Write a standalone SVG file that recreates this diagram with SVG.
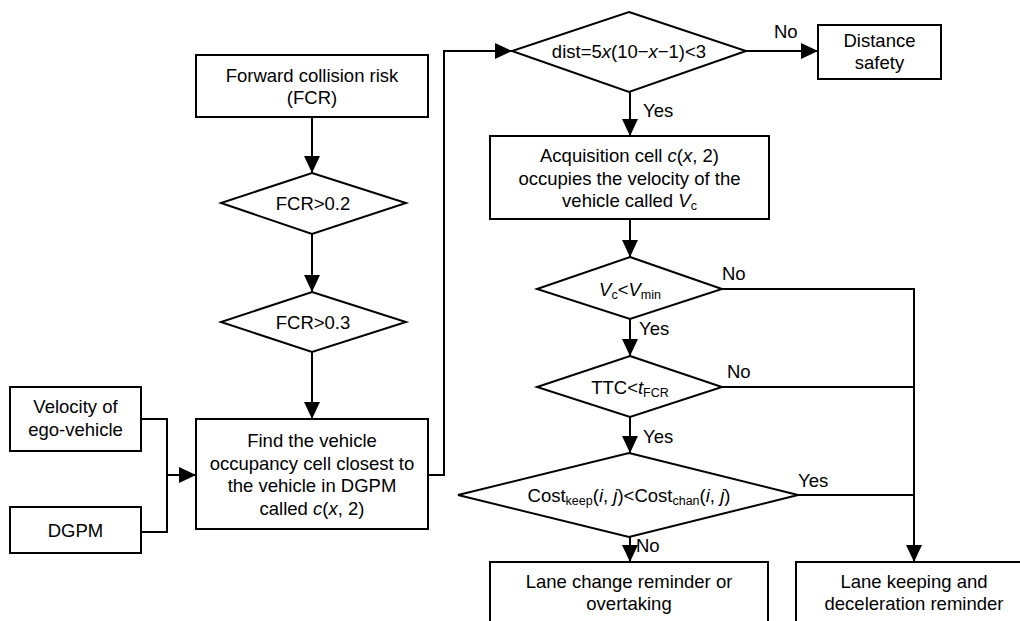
<svg xmlns="http://www.w3.org/2000/svg" width="1020" height="621" viewBox="0 0 1020 621">
<style>
.box{fill:#fff;stroke:#000;stroke-width:2}
.ln{fill:none;stroke:#000;stroke-width:2}
text{font-family:"Liberation Sans",Arial,sans-serif;font-size:18.5px;fill:#000;text-anchor:middle}
.lbl{text-anchor:start}
.it{font-style:italic}
.sub{font-size:12.5px}
</style>
<defs>
<marker id="ah" markerUnits="userSpaceOnUse" markerWidth="18" markerHeight="17" refX="17" refY="8" orient="auto">
<path d="M0,0 L17,8 L0,16 Z" fill="#000"/>
</marker>
</defs>
<rect width="1020" height="621" fill="#fff"/>

<g id="connectors">
<line class="ln" x1="312" y1="117" x2="312" y2="173" marker-end="url(#ah)"/>
<line class="ln" x1="312" y1="234" x2="312" y2="292" marker-end="url(#ah)"/>
<line class="ln" x1="312" y1="352" x2="312" y2="419" marker-end="url(#ah)"/>
<polyline class="ln" points="141,419 167,419 167,532 141,532"/>
<line class="ln" x1="167" y1="475" x2="196" y2="475" marker-end="url(#ah)"/>
<polyline class="ln" points="428,475 444,475 444,51 512,51" marker-end="url(#ah)"/>
<line class="ln" x1="746" y1="51" x2="818" y2="51" marker-end="url(#ah)"/>
<line class="ln" x1="630" y1="92" x2="630" y2="136" marker-end="url(#ah)"/>
<line class="ln" x1="630" y1="219" x2="630" y2="257" marker-end="url(#ah)"/>
<line class="ln" x1="630" y1="319" x2="630" y2="356" marker-end="url(#ah)"/>
<line class="ln" x1="630" y1="417" x2="630" y2="453" marker-end="url(#ah)"/>
<line class="ln" x1="630" y1="537" x2="630" y2="562" marker-end="url(#ah)"/>
<polyline class="ln" points="722,289 914,289 914,562" marker-end="url(#ah)"/>
<line class="ln" x1="722" y1="387" x2="914" y2="387"/>
<line class="ln" x1="798" y1="495" x2="914" y2="495"/>
<text class="lbl" x="774" y="38">No</text>
<text class="lbl" x="643" y="117">Yes</text>
<text class="lbl" x="722" y="280">No</text>
<text class="lbl" x="639" y="335">Yes</text>
<text class="lbl" x="727" y="378">No</text>
<text class="lbl" x="643" y="443">Yes</text>
<text class="lbl" x="798" y="487">Yes</text>
<text class="lbl" x="636" y="552">No</text>
</g>

<g id="fcr">
<rect class="box" x="196" y="55" width="232" height="62"/>
<text x="312" y="82">Forward collision risk</text>
<text x="312" y="104">(FCR)</text>
</g>

<g id="fcr02">
<polygon class="box" points="312,173 406,203 312,234 221,203"/>
<text x="313" y="210">FCR&gt;0.2</text>
</g>

<g id="fcr03">
<polygon class="box" points="312,292 406,322 312,352 221,322"/>
<text x="313" y="329">FCR&gt;0.3</text>
</g>

<g id="velocity">
<rect class="box" x="10" y="387" width="131" height="64"/>
<text x="75.5" y="413">Velocity of</text>
<text x="75.5" y="436">ego-vehicle</text>
</g>

<g id="dgpm">
<rect class="box" x="10" y="507" width="131" height="46"/>
<text x="75.5" y="537">DGPM</text>
</g>

<g id="find">
<rect class="box" x="196" y="419" width="232" height="110"/>
<text x="312" y="447">Find the vehicle</text>
<text x="312" y="470">occupancy cell closest to</text>
<text x="312" y="492">the vehicle in DGPM</text>
<text x="312" y="515">called <tspan class="it">c</tspan>(<tspan class="it">x</tspan>, 2)</text>
</g>

<g id="dist">
<polygon class="box" points="629,12 746,51 629,92 512,51"/>
<text x="629" y="58">dist=5<tspan class="it">x</tspan>(10−<tspan class="it">x</tspan>−1)&lt;3</text>
</g>

<g id="distance-safety">
<rect class="box" x="818" y="25" width="123" height="54"/>
<text x="879.5" y="47">Distance</text>
<text x="879.5" y="69">safety</text>
</g>

<g id="acquisition">
<rect class="box" x="490" y="136" width="279" height="83"/>
<text x="629.5" y="162">Acquisition cell <tspan class="it">c</tspan>(<tspan class="it">x</tspan>, 2)</text>
<text x="629.5" y="185">occupies the velocity of the</text>
<text x="629.5" y="207">vehicle called <tspan class="it">V</tspan><tspan class="sub" dy="3">c</tspan></text>
</g>

<g id="vmin">
<polygon class="box" points="630,257 722,289 630,319 537,289"/>
<text x="630" y="296"><tspan class="it">V</tspan><tspan class="sub" dy="3">c</tspan><tspan dy="-3">&lt;</tspan><tspan class="it">V</tspan><tspan class="sub" dy="3">min</tspan></text>
</g>

<g id="ttc">
<polygon class="box" points="630,356 722,387 630,417 537,387"/>
<text x="630" y="394">TTC&lt;<tspan class="it">t</tspan><tspan class="sub" dy="3">FCR</tspan></text>
</g>

<g id="cost">
<polygon class="box" points="629,453 798,495 629,537 458,495"/>
<text x="629" y="502">Cost<tspan class="sub" dy="3">keep</tspan><tspan dy="-3">(</tspan><tspan class="it">i</tspan>, <tspan class="it">j</tspan>)&lt;Cost<tspan class="sub" dy="3">chan</tspan><tspan dy="-3">(</tspan><tspan class="it">i</tspan>, <tspan class="it">j</tspan>)</text>
</g>

<g id="lane-change">
<rect class="box" x="490" y="562" width="278" height="80"/>
<text x="629" y="588">Lane change reminder or</text>
<text x="629" y="610">overtaking</text>
</g>

<g id="lane-keeping">
<rect class="box" x="796" y="562" width="236" height="80"/>
<text x="914" y="588">Lane keeping and</text>
<text x="914" y="610">deceleration reminder</text>
</g>
</svg>
